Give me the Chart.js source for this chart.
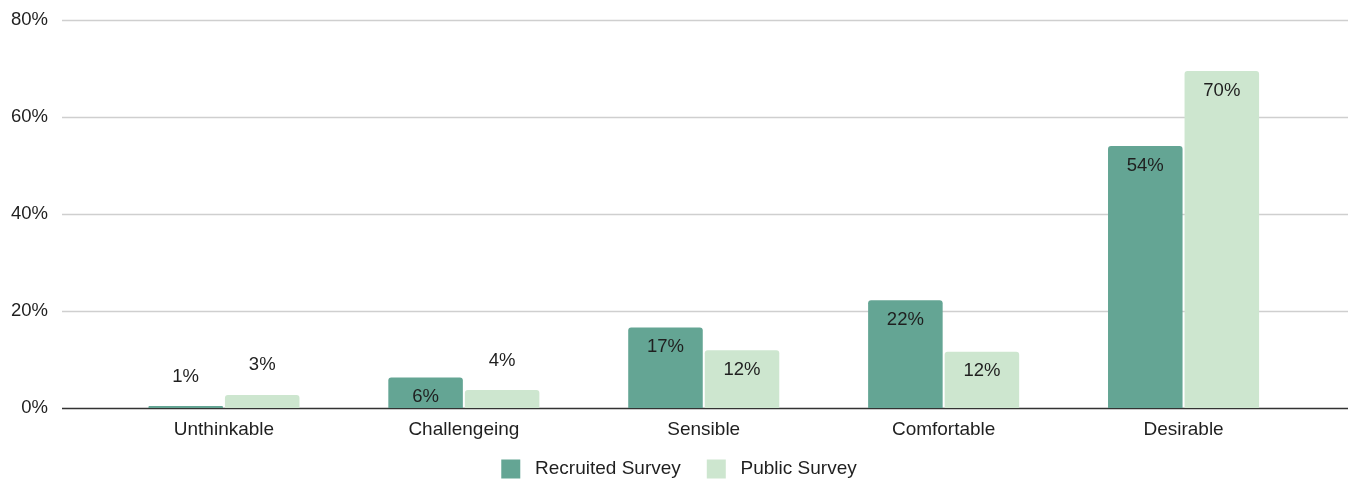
<!DOCTYPE html>
<html>
<head>
<meta charset="utf-8">
<script src="https://cdn.jsdelivr.net/npm/chart.js@4"></script>
<style>
    html, body { margin: 0; padding: 0; background: #fff; }
    #wrap { width: 1349px; height: 484px; position: relative; }
</style>
</head>
<body>
<div id="wrap"><canvas id="myChart"></canvas></div>
<script>
const categories = ["Unthinkable", "Challengeing", "Sensible", "Comfortable", "Desirable"];
const recruitedValues = [0.4, 6.3, 16.6, 22.2, 54.0];
const publicValues = [2.7, 3.7, 11.9, 11.6, 69.5];
const recruitedLabels = ["1%", "6%", "17%", "22%", "54%"];
const publicLabels = ["3%", "4%", "12%", "12%", "70%"];
const yTicks = [0, 20, 40, 60, 80];

const FONT = "'Liberation Sans', Arial, sans-serif";
const TEXT = "#1f1f1f";

// grid lines run past the category area on both sides
const gridPlugin = {
    id: "fullGrid",
    beforeDatasetsDraw(chart) {
        const ctx = chart.ctx;
        const y = chart.scales.y;
        ctx.save();
        yTicks.forEach(v => {
            const py = Math.round(y.getPixelForValue(v)) + 0.5;
            ctx.beginPath();
            ctx.lineWidth = 1.3;
            ctx.strokeStyle = v === 0 ? "#333333" : "#cfcfcf";
            ctx.moveTo(62, py);
            ctx.lineTo(chart.width - 1, py);
            ctx.stroke();
        });
        ctx.restore();
    }
};

// value labels: inside near the top, or above when the bar is short
const labelPlugin = {
    id: "barLabels",
    afterDatasetsDraw(chart) {
        const ctx = chart.ctx;
        const texts = [recruitedLabels, publicLabels];
        ctx.save();
        ctx.font = "18.5px " + FONT;
        ctx.fillStyle = TEXT;
        ctx.textAlign = "center";
        ctx.textBaseline = "middle";
        chart.data.datasets.forEach((ds, i) => {
            chart.getDatasetMeta(i).data.forEach((bar, j) => {
                const h = bar.base - bar.y;
                const ty = h > 25 ? bar.y + 19.5 : bar.y - 29.5;
                ctx.fillText(texts[i][j], bar.x, ty);
            });
        });
        ctx.restore();
    }
};

// legend: short box for layout, then moved under the axis labels
const legendFit = {
    id: "legendFit",
    beforeInit(chart) {
        const fit = chart.legend.fit;
        chart.legend.fit = function () {
            fit.bind(chart.legend)();
            this.height = 40;
        };
    },
    afterLayout(chart) {
        const lg = chart.legend;
        lg.left = 54.5;
        lg.top = 433.5;
        lg.bottom = chart.height;
        lg.height = lg.bottom - lg.top;
        lg.width = lg.right - lg.left;
    }
};

const defaultLabels = Chart.defaults.plugins.legend.labels.generateLabels;

new Chart(document.getElementById("myChart"), {
    type: "bar",
    data: {
        labels: categories,
        datasets: [
            {
                label: "Recruited Survey",
                data: recruitedValues,
                backgroundColor: "#64a594",
                borderRadius: { topLeft: 3, topRight: 3 },
                borderSkipped: "bottom",
                categoryPercentage: 0.638,
                barPercentage: 0.974
            },
            {
                label: "Public Survey",
                data: publicValues,
                backgroundColor: "#cde6cf",
                borderRadius: { topLeft: 3, topRight: 3 },
                borderSkipped: "bottom",
                categoryPercentage: 0.638,
                barPercentage: 0.974
            }
        ]
    },
    options: {
        responsive: true,
        maintainAspectRatio: false,
        animation: false,
        layout: { padding: { left: 0, right: 45.5, top: 20, bottom: 3.2 } },
        plugins: {
            tooltip: { enabled: false },
            legend: {
                position: "bottom",
                labels: {
                    boxWidth: 19,
                    boxHeight: 19,
                    padding: 26,
                    color: TEXT,
                    font: { size: 19, family: FONT },
                    generateLabels: (chart) => defaultLabels(chart).map(l => ({ ...l, text: " " + l.text }))
                }
            }
        },
        scales: {
            x: {
                grid: { display: false, drawTicks: false },
                border: { display: false },
                ticks: {
                    color: TEXT,
                    padding: 10,
                    maxRotation: 0,
                    font: { size: 19, family: FONT }
                },
                afterFit: (scale) => {
                    scale.height = 32.8;
                    scale.paddingLeft = 0;
                    scale.paddingRight = 0;
                }
            },
            y: {
                min: 0,
                max: 80,
                afterBuildTicks: (scale) => { scale.ticks = yTicks.map(v => ({ value: v })); },
                grid: { display: false, drawTicks: false },
                border: { display: false },
                ticks: {
                    color: TEXT,
                    padding: 56,
                    font: { size: 18.5, family: FONT },
                    callback: (v) => v + "%"
                },
                afterFit: (scale) => {
                    scale.width = 104;
                    scale.paddingTop = 0;
                    scale.paddingBottom = 0;
                }
            }
        }
    },
    plugins: [gridPlugin, labelPlugin, legendFit]
});
</script>
</body>
</html>
